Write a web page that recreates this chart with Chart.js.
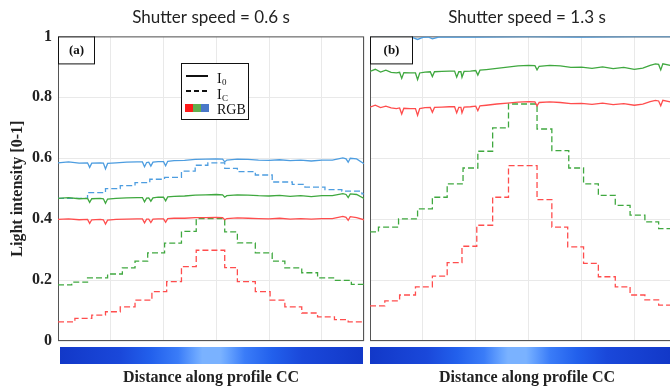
<!DOCTYPE html>
<html>
<head>
<meta charset="utf-8">
<script src="https://cdn.jsdelivr.net/npm/chart.js@4.4.0/dist/chart.umd.min.js"></script>
<style>
html, body { margin: 0; padding: 0; background: #fff; overflow: hidden; }
body { width: 670px; height: 386px; position: relative; }
canvas { position: absolute; top: 0; }
#left { left: 0; }
#right { left: 364px; }
</style>
</head>
<body>
<canvas id="left" width="366" height="386"></canvas>
<canvas id="right" width="320" height="386"></canvas>
<script>
// Panel (a): shutter speed 0.6 s. x = distance along profile (arbitrary units)
var solidXLeft = [0, 10, 20, 28, 30, 32, 40, 43, 45, 47, 55, 65, 75, 80, 82, 84, 86, 88, 90, 95, 100, 102, 104, 110, 120, 130, 140, 150, 156, 158, 160, 170, 180, 190, 200, 210, 220, 230, 240, 250, 260, 270, 273, 275, 277, 283, 290];
var blueI0Left = [0.585, 0.588, 0.584, 0.585, 0.570, 0.584, 0.585, 0.584, 0.565, 0.583, 0.585, 0.587, 0.588, 0.588, 0.572, 0.586, 0.587, 0.574, 0.587, 0.589, 0.589, 0.575, 0.59, 0.592, 0.593, 0.596, 0.597, 0.598, 0.597, 0.588, 0.594, 0.597, 0.596, 0.594, 0.593, 0.595, 0.592, 0.594, 0.591, 0.594, 0.594, 0.601, 0.598, 0.587, 0.6, 0.598, 0.582];
var greenI0Left = [0.468, 0.471, 0.467, 0.468, 0.455, 0.467, 0.468, 0.467, 0.452, 0.466, 0.468, 0.47, 0.471, 0.471, 0.457, 0.469, 0.47, 0.459, 0.47, 0.472, 0.472, 0.46, 0.473, 0.475, 0.476, 0.479, 0.48, 0.481, 0.48, 0.472, 0.477, 0.48, 0.479, 0.477, 0.476, 0.478, 0.475, 0.477, 0.474, 0.477, 0.477, 0.484, 0.481, 0.471, 0.483, 0.481, 0.468];
var redI0Left = [0.399, 0.401, 0.398, 0.399, 0.386, 0.398, 0.399, 0.398, 0.384, 0.397, 0.399, 0.4, 0.401, 0.401, 0.388, 0.4, 0.4, 0.389, 0.4, 0.401, 0.401, 0.39, 0.402, 0.403, 0.403, 0.405, 0.405, 0.406, 0.405, 0.398, 0.402, 0.404, 0.403, 0.402, 0.401, 0.403, 0.4, 0.402, 0.4, 0.402, 0.402, 0.409, 0.406, 0.396, 0.408, 0.405, 0.398];

var blueICXLeft = [0, 28, 45, 59, 73, 87, 101, 117, 130, 142, 158, 170, 187, 203, 222, 234, 253, 269, 288, 290];
var blueICLeft = [0.468, 0.487, 0.5, 0.51, 0.52, 0.531, 0.537, 0.558, 0.577, 0.585, 0.567, 0.556, 0.545, 0.522, 0.514, 0.505, 0.497, 0.492, 0.483, 0.483];
var greenICXLeft = [0, 13, 28, 47, 61, 73, 85, 101, 117, 131, 158, 170, 187, 203, 215, 231, 246, 262, 278, 290];
var greenICLeft = [0.184, 0.193, 0.207, 0.22, 0.24, 0.262, 0.289, 0.321, 0.36, 0.402, 0.358, 0.322, 0.289, 0.262, 0.24, 0.224, 0.207, 0.199, 0.186, 0.186];
var redICXLeft = [0, 16, 32, 45, 59, 73, 89, 103, 117, 131, 158, 170, 187, 201, 215, 231, 246, 262, 275, 290];
var redICLeft = [0.063, 0.074, 0.085, 0.096, 0.112, 0.134, 0.162, 0.195, 0.244, 0.298, 0.241, 0.195, 0.162, 0.134, 0.112, 0.092, 0.079, 0.07, 0.063, 0.063];

// Panel (b): shutter speed 1.3 s
var blueXRight = [0, 20, 40, 45, 50, 55, 59, 65, 100, 150, 200, 250, 284];
var blueI0Right = [0.997, 0.998, 0.997, 0.99, 0.997, 0.998, 0.992, 0.998, 0.998, 0.999, 0.998, 0.999, 0.999];
var solidXRight = [0, 5, 10, 15, 20, 25, 28, 30, 32, 38, 43, 45, 47, 52, 57, 59, 61, 68, 75, 80, 82, 84, 86, 87, 89, 95, 100, 102, 104, 110, 120, 130, 140, 150, 156, 158, 160, 170, 180, 190, 200, 210, 220, 230, 240, 250, 258, 265, 270, 273, 275, 277, 284];
var greenI0Right = [0.885, 0.892, 0.883, 0.889, 0.882, 0.88, 0.882, 0.862, 0.881, 0.88, 0.88, 0.858, 0.88, 0.883, 0.884, 0.868, 0.884, 0.885, 0.886, 0.886, 0.866, 0.884, 0.884, 0.866, 0.885, 0.886, 0.888, 0.873, 0.889, 0.891, 0.895, 0.899, 0.903, 0.905, 0.904, 0.89, 0.902, 0.905, 0.903, 0.898, 0.899, 0.895, 0.9, 0.894, 0.898, 0.892, 0.896, 0.905, 0.91, 0.908, 0.89, 0.91, 0.905];
var redI0Right = [0.768, 0.774, 0.766, 0.771, 0.765, 0.763, 0.765, 0.745, 0.764, 0.763, 0.763, 0.741, 0.763, 0.766, 0.767, 0.751, 0.767, 0.768, 0.769, 0.769, 0.749, 0.767, 0.767, 0.749, 0.768, 0.769, 0.771, 0.756, 0.772, 0.774, 0.778, 0.781, 0.784, 0.786, 0.785, 0.772, 0.783, 0.785, 0.783, 0.779, 0.78, 0.777, 0.781, 0.776, 0.779, 0.774, 0.778, 0.786, 0.79, 0.788, 0.772, 0.79, 0.785];

var greenICXRight = [0, 8, 27, 45, 59, 73, 88, 102, 116, 131, 158, 172, 188, 202, 216, 232, 246, 260, 273, 284];
var greenICRight = [0.358, 0.374, 0.401, 0.434, 0.472, 0.516, 0.568, 0.623, 0.7, 0.778, 0.696, 0.625, 0.568, 0.516, 0.478, 0.445, 0.413, 0.391, 0.369, 0.369];
var redICXRight = [0, 14, 28, 43, 59, 73, 87, 101, 116, 131, 158, 172, 187, 202, 216, 232, 246, 260, 273, 284];
var redICRight = [0.115, 0.132, 0.151, 0.178, 0.213, 0.257, 0.311, 0.38, 0.472, 0.576, 0.464, 0.374, 0.309, 0.255, 0.211, 0.178, 0.151, 0.135, 0.118, 0.118];

var yTicks = ['0', '0.2', '0.4', '0.6', '0.8', '1'];

var BLUE = '#4d9de0', GREEN = '#3fa83f', RED = '#ff4d4d';
var SERIF = '"Liberation Serif", "Times New Roman", serif';
var GRID = '#e9e9e9';

function pts(xs, ys) {
    return xs.map(function (x, i) { return {x: x, y: ys[i]}; });
}

function solid(xs, ys, color) {
    return {data: pts(xs, ys), borderColor: color, borderWidth: 1.3, pointRadius: 0, tension: 0};
}

function dashed(xs, ys, color) {
    return {data: pts(xs, ys), borderColor: color, borderWidth: 1.3, pointRadius: 0,
        borderDash: [6, 3], stepped: true};
}

// frame, (a)/(b) box, colour bar, legend
var panelDeco = {
    id: 'panelDeco',
    beforeDatasetsDraw: function (chart) {
        var ca = chart.chartArea, ctx = chart.ctx;
        ctx.save();
        ctx.strokeStyle = '#555';
        ctx.lineWidth = 1;
        ctx.strokeRect(ca.left + 0.5, ca.top + 0.5, ca.right - ca.left - 1, ca.bottom - ca.top - 1);
        ctx.restore();
    },
    afterDraw: function (chart, args, opts) {
        var ca = chart.chartArea, ctx = chart.ctx;
        ctx.save();
        // panel label
        ctx.fillStyle = '#fff';
        ctx.fillRect(ca.left, ca.top, opts.boxW, 27);
        ctx.strokeStyle = '#111';
        ctx.strokeRect(ca.left + 0.5, ca.top + 0.5, opts.boxW, 27);
        ctx.fillStyle = '#111';
        ctx.font = 'bold 13px ' + SERIF;
        ctx.textAlign = 'center';
        ctx.textBaseline = 'middle';
        ctx.fillText(opts.label, ca.left + opts.boxW / 2 + 0.5, ca.top + 14);

        // colour bar under the axis
        var x0 = ca.left + opts.barOffset, w = opts.barW, y0 = 347, h = 17;
        var g = ctx.createLinearGradient(x0, 0, x0 + w, 0);
        var c = opts.barCenter;
        var stops = [[-0.3, '#1a48da'], [-0.2, '#2260ec'], [-0.11, '#3a7cf8'], [-0.05, '#6aa6ff'], [-0.03, '#7ab2ff'],
            [0.03, '#7ab2ff'], [0.05, '#6aa6ff'], [0.11, '#3a7cf8'], [0.2, '#2260ec'], [0.3, '#1a48da']];
        g.addColorStop(0, '#1238c8');
        stops.forEach(function (s) { g.addColorStop(c + s[0], s[1]); });
        g.addColorStop(1, '#1238c8');
        ctx.fillStyle = g;
        ctx.fillRect(x0, y0, w, h);

        if (opts.legend) {
            var lx = 181, ly = 63;
            ctx.fillStyle = '#fff';
            ctx.fillRect(lx, ly, 67, 56);
            ctx.strokeStyle = '#111';
            ctx.lineWidth = 1;
            ctx.strokeRect(lx + 0.5, ly + 0.5, 67, 56);
            ctx.lineWidth = 2;
            ctx.beginPath();
            ctx.moveTo(186, 76); ctx.lineTo(208, 76);
            ctx.stroke();
            ctx.setLineDash([5, 3]);
            ctx.beginPath();
            ctx.moveTo(186, 91); ctx.lineTo(209, 91);
            ctx.stroke();
            ctx.setLineDash([]);
            ctx.fillStyle = '#ff1a1a'; ctx.fillRect(185, 104, 8, 8);
            ctx.fillStyle = '#62ae4e'; ctx.fillRect(193, 104, 8, 8);
            ctx.fillStyle = '#4a78c8'; ctx.fillRect(201, 104, 8, 8);
            ctx.fillStyle = '#111';
            ctx.textAlign = 'left';
            ctx.textBaseline = 'alphabetic';
            ctx.font = '14px ' + SERIF;
            ctx.fillText('I', 217, 83);
            ctx.fillText('I', 217, 99);
            ctx.fillText('RGB', 217, 114);
            ctx.font = '9px ' + SERIF;
            ctx.fillText('0', 222, 85);
            ctx.fillText('C', 222, 101);
        }
        ctx.restore();
    }
};

function makeChart(id, title, datasets, xMax, yWidth, showY, deco, padRight) {
    return new Chart(document.getElementById(id), {
        type: 'line',
        data: {datasets: datasets},
        plugins: [panelDeco],
        options: {
            responsive: false,
            animation: false,
            devicePixelRatio: 1,
            events: [],
            layout: {padding: {left: 0, right: padRight, top: 0, bottom: 0}},
            plugins: {
                legend: {display: false},
                tooltip: {enabled: false},
                title: {
                    display: true,
                    text: title,
                    fullSize: false,
                    color: '#222',
                    font: {family: 'Lato, "Open Sans", sans-serif', size: 17, weight: 'normal', lineHeight: 1.2},
                    padding: {top: 7, bottom: 9}
                },
                panelDeco: deco
            },
            scales: {
                x: {
                    type: 'linear',
                    min: 0,
                    max: xMax,
                    ticks: {display: false, stepSize: 50},
                    grid: {color: GRID, drawTicks: false},
                    border: {display: false},
                    title: {
                        display: true,
                        text: 'Distance along profile CC',
                        color: '#222',
                        font: {family: SERIF, size: 16, weight: 'bold', lineHeight: 1},
                        padding: 0
                    },
                    afterFit: function (s) { s.height = 45; }
                },
                y: {
                    min: 0,
                    max: 1,
                    ticks: {
                        display: showY,
                        stepSize: 0.2,
                        color: '#222',
                        padding: 6,
                        font: {family: SERIF, size: 16, weight: 'bold'},
                        callback: function (v, i) { return yTicks[i]; }
                    },
                    grid: {color: GRID, drawTicks: false},
                    border: {display: false},
                    title: {
                        display: showY,
                        text: 'Light intensity [0-1]',
                        color: '#222',
                        font: {family: SERIF, size: 16, weight: 'bold', lineHeight: 1},
                        padding: {top: 10, bottom: 0}
                    },
                    afterFit: function (s) { s.width = yWidth; }
                }
            }
        }
    });
}

makeChart('left', 'Shutter speed = 0.6 s', [
    solid(solidXLeft, blueI0Left, BLUE),
    solid(solidXLeft, greenI0Left, GREEN),
    solid(solidXLeft, redI0Left, RED),
    dashed(blueICXLeft, blueICLeft, BLUE),
    dashed(greenICXLeft, greenICLeft, GREEN),
    dashed(redICXLeft, redICLeft, RED)
], 290, 58, true, {label: '(a)', boxW: 36, barOffset: 2, barW: 303, barCenter: 0.5, legend: true}, 2);

makeChart('right', 'Shutter speed = 1.3 s', [
    solid(blueXRight, blueI0Right, BLUE),
    solid(solidXRight, greenI0Right, GREEN),
    solid(solidXRight, redI0Right, RED),
    dashed(greenICXRight, greenICRight, GREEN),
    dashed(redICXRight, redICRight, RED)
], 297, 6, false, {label: '(b)', boxW: 42, barOffset: 0, barW: 300, barCenter: 0.49, legend: false}, 0);
</script>
</body>
</html>
